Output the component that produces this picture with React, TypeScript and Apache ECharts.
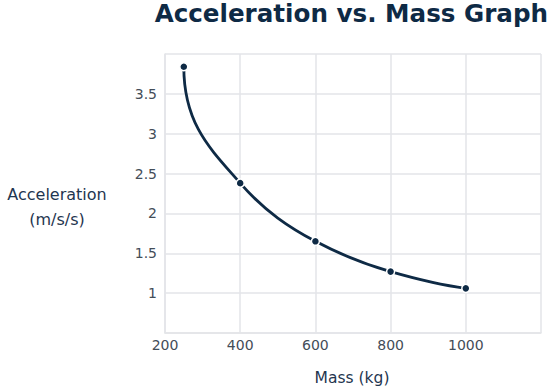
import React, { useEffect, useRef } from "react";
import * as echarts from "echarts";

const massKg = [250, 400, 600, 800, 1000];
const accel = [3.84, 2.38, 1.65, 1.27, 1.06];
const titleText = "Acceleration vs. Mass Graph";
const yName = "Acceleration\n(m/s/s)";
const xName = "Mass (kg)";

// monotone (PCHIP) tangents in data space
function tangents(xs: number[], ys: number[]) {
  const n = xs.length;
  const h: number[] = [];
  const d: number[] = [];
  for (let k = 0; k < n - 1; k++) {
    h.push(xs[k + 1] - xs[k]);
    d.push((ys[k + 1] - ys[k]) / h[k]);
  }
  const m: number[] = new Array(n).fill(0);
  for (let k = 1; k < n - 1; k++) {
    if (d[k - 1] * d[k] <= 0) m[k] = 0;
    else {
      const w1 = 2 * h[k] + h[k - 1];
      const w2 = h[k] + 2 * h[k - 1];
      m[k] = (w1 + w2) / (w1 / d[k - 1] + w2 / d[k]);
    }
  }
  m[0] = d[0];
  const e0 = ((2 * h[n - 2] + h[n - 3]) * d[n - 2] - h[n - 2] * d[n - 3]) / (h[n - 2] + h[n - 3]);
  m[n - 1] = Math.sign(e0) === Math.sign(d[n - 2]) ? e0 : 0;
  return { h, m };
}

export default function App() {
  const ref = useRef<HTMLDivElement>(null);
  useEffect(() => {
    document.body.style.margin = "0";
    const chart = echarts.init(ref.current!, null, { renderer: "svg" });
    const navy = "#0e2a45";
    const grid = "#e3e5e8";
    const labelColor = "#434d58";
    const font = "DejaVu Sans";
    const points = massKg.map((m, i) => [m, accel[i]]);
    const { h, m } = tangents(massKg, accel);
    chart.setOption({
      animation: false,
      backgroundColor: "#ffffff",
      title: {
        text: titleText,
        right: 1,
        top: 1,
        padding: 0,
        textStyle: { fontFamily: font, fontWeight: "bold", fontSize: 24.6, color: navy },
      },
      grid: { left: 165, right: 8, top: 54, bottom: 57 },
      xAxis: {
        type: "value",
        min: 200,
        max: 1200,
        interval: 200,
        axisLine: { show: true, lineStyle: { color: grid, width: 1.5 } },
        axisTick: { show: false },
        splitLine: { show: true, lineStyle: { color: grid, width: 1.5 } },
        axisLabel: {
          showMaxLabel: false,
          color: labelColor,
          fontFamily: font,
          fontSize: 14,
          margin: 5,
          formatter: (v: number) => String(v),
        },
      },
      yAxis: {
        type: "value",
        min: 0.5,
        max: 4,
        interval: 0.5,
        axisLine: { show: true, lineStyle: { color: grid, width: 1.5 } },
        axisTick: { show: false },
        splitLine: { show: true, lineStyle: { color: grid, width: 1.5 } },
        axisLabel: {
          showMinLabel: false,
          showMaxLabel: false,
          color: labelColor,
          fontFamily: font,
          fontSize: 14,
          margin: 8,
          formatter: (v: number) => String(v),
        },
      },
      graphic: [
        {
          type: "text",
          x: 57,
          y: 207,
          style: {
            text: yName,
            fontFamily: font,
            fontSize: 16,
            lineHeight: 25,
            fill: "#1f3650",
            align: "center",
            verticalAlign: "middle",
          },
        },
        {
          type: "text",
          x: 352,
          y: 378,
          style: {
            text: xName,
            fontFamily: font,
            fontSize: 15.5,
            fill: "#1f3650",
            align: "center",
            verticalAlign: "middle",
          },
        },
      ],
      series: [
        {
          type: "custom",
          data: points,
          z: 2,
          renderItem: (params: any, api: any) => {
            if (params.dataIndex !== 0) return null;
            const c = (x: number, y: number) => api.coord([x, y]);
            const p0 = c(massKg[0], accel[0]);
            const p1 = c(massKg[1], accel[1]);
            // first segment: parametric bezier in pixel space, starting straight down
            const chord = Math.hypot(p1[0] - p0[0], p1[1] - p0[1]);
            const q = c(massKg[1] + 1, accel[1] + m[1]);
            let dx = q[0] - p1[0];
            let dy = q[1] - p1[1];
            const len = Math.hypot(dx, dy);
            dx /= len;
            dy /= len;
            const a1 = [p0[0], p0[1] + 0.45 * chord];
            const a2 = [p1[0] - 0.34 * chord * dx, p1[1] - 0.34 * chord * dy];
            let d = `M${p0[0]},${p0[1]} C${a1[0]},${a1[1]} ${a2[0]},${a2[1]} ${p1[0]},${p1[1]}`;
            for (let k = 1; k < massKg.length - 1; k++) {
              const t = h[k] / 3;
              const c1 = c(massKg[k] + t, accel[k] + m[k] * t);
              const c2 = c(massKg[k + 1] - t, accel[k + 1] - m[k + 1] * t);
              const p3 = c(massKg[k + 1], accel[k + 1]);
              d += ` C${c1[0]},${c1[1]} ${c2[0]},${c2[1]} ${p3[0]},${p3[1]}`;
            }
            return {
              type: "path",
              shape: { pathData: d },
              style: { stroke: navy, lineWidth: 2.8, fill: "none" },
            };
          },
        },
        {
          type: "scatter",
          data: points,
          z: 3,
          symbol: "circle",
          symbolSize: 8,
          itemStyle: { color: navy, borderColor: "#ffffff", borderWidth: 1.5, opacity: 1 },
        },
      ],
    });
    return () => chart.dispose();
  }, []);
  return <div ref={ref} style={{ width: 549, height: 390 }} />;
}
